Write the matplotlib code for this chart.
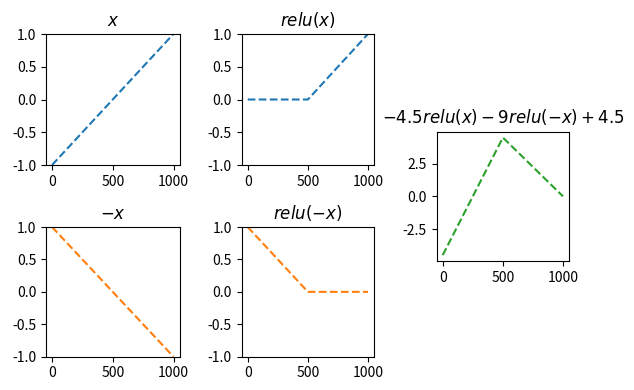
import numpy as np
import matplotlib
matplotlib.use("Agg")
import matplotlib.pyplot as plt

plt.rcParams['font.family'] = ['Noto Sans CJK KR', 'DejaVu Sans']
plt.rcParams['axes.unicode_minus'] = False
plt.rcParams['font.size'] = 10

# breakpoints of each piecewise-linear curve (sample index -> value)
idx_line = [0, 999]
x_vals = [-1.0, 1.0]
neg_x_vals = [1.0, -1.0]

idx_kink = [0, 500, 999]
relu_x_vals = [0.0, 0.0, 1.0]
relu_neg_x_vals = [1.0, 0.0, 0.0]
combo_vals = [-4.5, 4.5, 0.0]

titles = ["$x$", "$relu(x)$", "$-x$", "$relu(-x)$",
          "$-4.5relu(x) - 9relu(-x) + 4.5$"]

W, H = 634, 390
fig = plt.figure(figsize=(W / 100, H / 100), dpi=100)


def box(l, t, r, b):
    return [l / W, 1 - b / H, (r - l) / W, (b - t) / H]


ax1 = fig.add_axes(box(46, 34, 179.5, 165))
ax2 = fig.add_axes(box(241.7, 34, 374, 165))
ax4 = fig.add_axes(box(46, 227, 179.5, 356.7))
ax5 = fig.add_axes(box(241.7, 227, 374, 356.7))
ax3 = fig.add_axes(box(436.7, 131.7, 569, 261))

ax1.plot(idx_line, x_vals, '--', color='C0')
ax2.plot(idx_kink, relu_x_vals, '--', color='C0')
ax4.plot(idx_line, neg_x_vals, '--', color='C1')
ax5.plot(idx_kink, relu_neg_x_vals, '--', color='C1')
ax3.plot(idx_kink, combo_vals, '--', color='C2')

for ax, t in zip([ax1, ax2, ax4, ax5, ax3], titles):
    ax.set_title(t, family='DejaVu Sans', fontsize=12)
    ax.set_xlim(-49.95, 1048.95)
    ax.set_xticks([0, 500, 1000])

for ax in [ax1, ax2, ax4, ax5]:
    ax.set_ylim(-1, 1)
    ax.set_yticks([-1.0, -0.5, 0.0, 0.5, 1.0])

ax3.set_ylim(-4.95, 4.95)
ax3.set_yticks([-2.5, 0.0, 2.5])

fig.savefig("out.png", dpi=100)
